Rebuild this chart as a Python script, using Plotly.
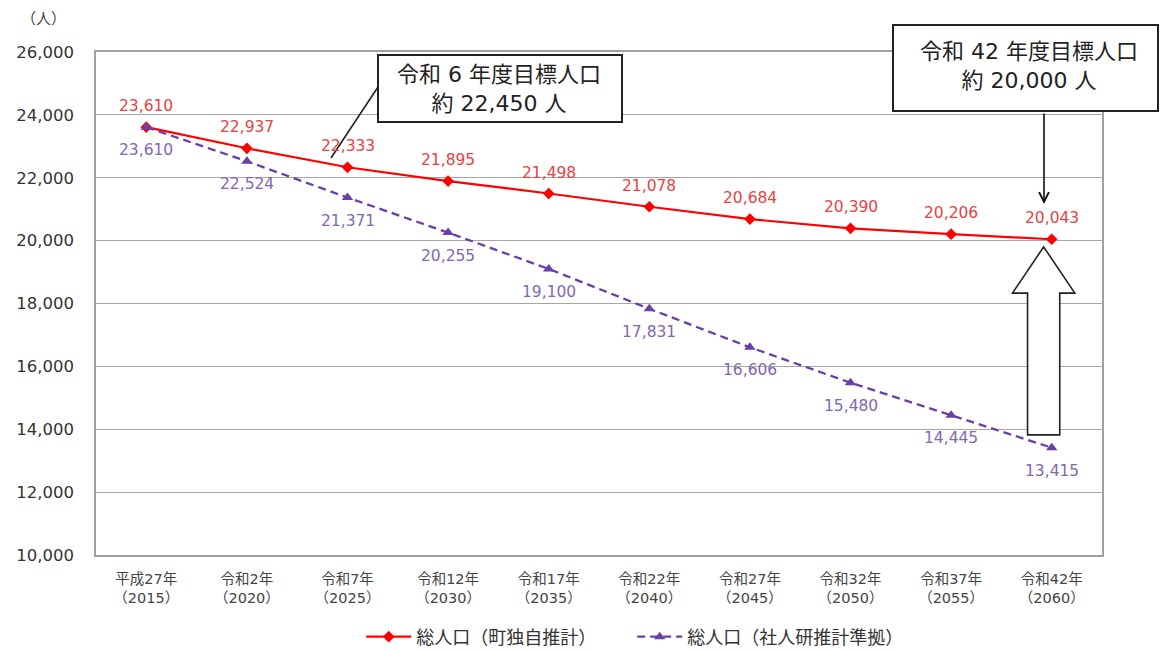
import plotly.graph_objects as go

# Population projections (persons)
years_label = ["平成27年<br>（2015）", "令和2年<br>（2020）", "令和7年<br>（2025）", "令和12年<br>（2030）",
               "令和17年<br>（2035）", "令和22年<br>（2040）", "令和27年<br>（2045）", "令和32年<br>（2050）",
               "令和37年<br>（2055）", "令和42年<br>（2060）"]
town_estimate = [23610, 22937, 22333, 21895, 21498, 21078, 20684, 20390, 20206, 20043]
ipss_estimate = [23610, 22524, 21371, 20255, 19100, 17831, 16606, 15480, 14445, 13415]

y_ticks = [10000, 12000, 14000, 16000, 18000, 20000, 22000, 24000, 26000]
y_min, y_max = 10000, 26000

RED = "#ff0000"
RED_TXT = "#e8423f"
PURPLE = "#6a3fa8"
PURPLE_TXT = "#8268b0"
FONT = "DejaVu Sans, Noto Sans CJK JP, sans-serif"
JP = "Noto Sans CJK JP, sans-serif"

W, H = 1164, 650
ML, MR, MT, MB = 96, 62, 52, 95
n = len(years_label)


def xp(i):
    # category index -> paper x
    return (i + 0.5) / n


def yp(v):
    # value -> paper y
    return (v - y_min) / (y_max - y_min)


def px_x(p):
    # pixel x -> paper x
    return (p - ML) / (W - ML - MR)


def px_y(p):
    # pixel y -> paper y
    return (H - MB - p) / (H - MT - MB)


fig = go.Figure()
fig.add_trace(go.Scatter(
    x=years_label, y=town_estimate, mode="lines+markers", name="総人口（町独自推計）",
    line=dict(color=RED, width=2.2),
    marker=dict(symbol="diamond", size=9, color=RED),
))
fig.add_trace(go.Scatter(
    x=years_label, y=ipss_estimate, mode="lines+markers", name="総人口（社人研推計準拠）",
    line=dict(color=PURPLE, width=2.3, dash="8px,5px"),
    marker=dict(symbol="triangle-up", size=10, color=PURPLE),
))

annotations = []
for i, v in enumerate(town_estimate):
    annotations.append(dict(x=years_label[i], y=v, xref="x", yref="y", text=f"{v:,}",
                            showarrow=False, yshift=21, font=dict(family=FONT, size=15.5, color=RED_TXT)))
for i, v in enumerate(ipss_estimate):
    annotations.append(dict(x=years_label[i], y=v, xref="x", yref="y", text=f"{v:,}",
                            showarrow=False, yshift=-23, font=dict(family=FONT, size=15.5, color=PURPLE_TXT)))

# unit label
annotations.append(dict(x=px_x(43), y=px_y(17), xref="paper", yref="paper", text="（人）",
                        xanchor="center", yanchor="middle",
                        showarrow=False, font=dict(family=JP, size=15, color="#444444")))

# target boxes
annotations.append(dict(x=px_x(499), y=px_y(89), xref="paper", yref="paper",
                        xanchor="center", yanchor="middle",
                        text="令和 6 年度目標人口<br>約 22,450 人", showarrow=False,
                        font=dict(family=FONT, size=22, color="#222222")))
annotations.append(dict(x=px_x(1029), y=px_y(66), xref="paper", yref="paper",
                        xanchor="center", yanchor="middle",
                        text="令和 42 年度目標人口<br>約 20,000 人", showarrow=False,
                        font=dict(family=FONT, size=22, color="#222222")))

# arrow from 2060 target box down to the line
annotations.append(dict(x=px_x(1044), y=px_y(204), xref="paper", yref="paper", text="",
                        showarrow=True, ax=0, ay=-92, arrowhead=5, arrowsize=1.2,
                        arrowwidth=1.6, arrowcolor="#111111"))

shapes = [
    dict(type="rect", xref="paper", yref="paper", x0=px_x(378), x1=px_x(622), y0=px_y(122), y1=px_y(55),
         line=dict(color="#222222", width=2), fillcolor="white", layer="above"),
    dict(type="line", xref="paper", yref="paper", x0=px_x(378), y0=px_y(87), x1=px_x(331), y1=px_y(158),
         line=dict(color="#222222", width=1.6)),
    dict(type="rect", xref="paper", yref="paper", x0=px_x(893), x1=px_x(1158), y0=px_y(111), y1=px_y(25),
         line=dict(color="#222222", width=2), fillcolor="white", layer="above"),
]

# hollow upward arrow beside the 2060 points
ac = 8.92
head_half, shaft_half = 0.31, 0.16
tip, head_base, bottom = 19800, 18330, 13820
pts = [(ac, tip), (ac + head_half, head_base), (ac + shaft_half, head_base), (ac + shaft_half, bottom),
       (ac - shaft_half, bottom), (ac - shaft_half, head_base), (ac - head_half, head_base)]
path = "M " + " L ".join(f"{xp(x):.5f},{yp(y):.5f}" for x, y in pts) + " Z"
shapes.append(dict(type="path", xref="paper", yref="paper", path=path,
                   line=dict(color="#222222", width=1.6), fillcolor="white", layer="above"))

fig.update_layout(
    width=W, height=H,
    margin=dict(l=ML, r=MR, t=MT, b=MB, autoexpand=False),
    paper_bgcolor="white", plot_bgcolor="white",
    font=dict(family=FONT, color="#333333"),
    showlegend=True,
    legend=dict(orientation="h", x=0.533, xanchor="center", y=px_y(637), yanchor="middle",
                font=dict(family=JP, size=18, color="#333333"), itemwidth=45,
                tracegroupgap=0, entrywidthmode="pixels", entrywidth=211),
    annotations=annotations,
    shapes=shapes,
)
fig.update_xaxes(
    type="category", range=[-0.5, n - 0.5],
    showline=True, linecolor="#a0a0a0", linewidth=1.5, mirror=True,
    showgrid=False, ticks="", ticklabelstandoff=10,
    tickfont=dict(family=FONT, size=14.5, color="#444444"),
)
fig.update_yaxes(
    range=[y_min, y_max], tickvals=y_ticks, ticktext=[f"{v:,}" for v in y_ticks],
    showline=True, linecolor="#a0a0a0", linewidth=1.5, mirror=True,
    showgrid=True, gridcolor="#a6a6a6", gridwidth=1.3, ticks="", ticklabelstandoff=17,
    tickfont=dict(family=FONT, size=16.5, color="#333333"), zeroline=False,
)

fig.write_html("out.html")
